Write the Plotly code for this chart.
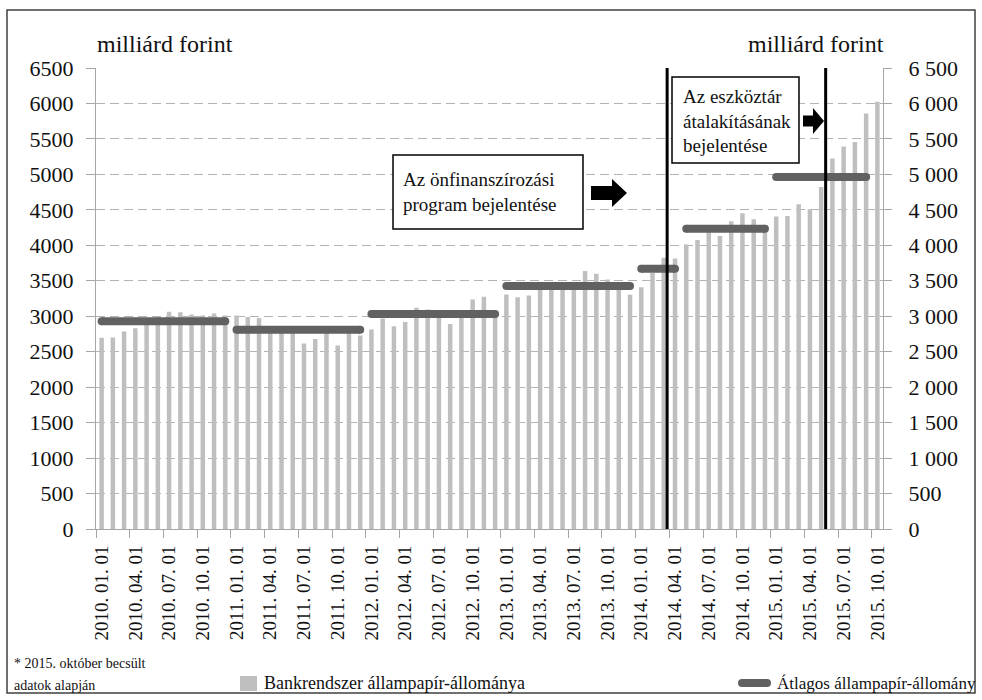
import plotly.graph_objects as go

# ---- data -------------------------------------------------------------
months = []
for year in range(2010, 2016):
    for m in range(1, 13):
        if year == 2015 and m > 10:
            break
        months.append(f"{year}. {m:02d}. 01")

# bank-sector government securities holdings (billion HUF), monthly
holdings = [
    2695, 2700, 2783, 2830, 2960, 2990, 3062, 3057, 3024, 3010, 3038, 3010,   # 2010
    3010, 2990, 2975, 2840, 2830, 2790, 2614, 2680, 2800, 2586, 2800, 2730,   # 2011
    2812, 2967, 2859, 2920, 3118, 3094, 3060, 2892, 3040, 3236, 3274, 3050,   # 2012
    3306, 3269, 3292, 3420, 3440, 3410, 3430, 3636, 3599, 3518, 3480, 3302,   # 2013
    3410, 3613, 3825, 3815, 4013, 4074, 4230, 4131, 4340, 4451, 4366, 4220,   # 2014
    4405, 4413, 4578, 4508, 4823, 5224, 5393, 5458, 5860, 6024,               # 2015
]

# average holdings per period: first month, last month, value
avg_start = ["2010. 01. 01", "2011. 01. 01", "2012. 01. 01", "2013. 01. 01",
             "2014. 01. 01", "2014. 05. 01", "2015. 01. 01"]
avg_end = ["2010. 12. 01", "2011. 12. 01", "2012. 12. 01", "2013. 12. 01",
           "2014. 04. 01", "2014. 12. 01", "2015. 09. 01"]
avg_value = [2930, 2808, 3030, 3425, 3670, 4235, 4964]

# announcements, placed on the monthly index axis
event_pos = [50.3, 64.4]

y_ticks = list(range(0, 6501, 500))
y_ticks_right = [f"{v // 1000} {v % 1000:03d}" if v >= 1000 else str(v) for v in y_ticks]

# ---- styling ----------------------------------------------------------
FONT = "Liberation Serif"
BAR_COLOR = "#bfbfbf"
AVG_COLOR = "#616161"
GRID_COLOR = "#b3b3b3"
AXIS_COLOR = "#a6a6a6"
TEXT_COLOR = "#111111"

WIDTH, HEIGHT = 982, 700
ML, MR, MT, MB = 96, 99, 68, 171
PW = WIDTH - ML - MR
PH = HEIGHT - MT - MB


def fx(px):
    return (px - ML) / PW


def fy(py):
    return (HEIGHT - MB - py) / PH


idx = list(range(len(months)))

fig = go.Figure()

fig.add_trace(go.Bar(
    x=idx, y=holdings, width=0.4,
    marker=dict(color=BAR_COLOR, line=dict(width=0)),
    name="Bankrendszer állampapír-állománya", showlegend=False,
))

for s, e, v in zip(avg_start, avg_end, avg_value):
    i0, i1 = months.index(s), months.index(e)
    fig.add_trace(go.Scatter(
        x=[i0, i1], y=[v, v], mode="lines+markers",
        line=dict(color=AVG_COLOR, width=8),
        marker=dict(color=AVG_COLOR, size=8, line=dict(width=0)),
        showlegend=False, hoverinfo="skip",
    ))

# carrier trace for the secondary axes (right scale, centred date labels)
fig.add_trace(go.Scatter(
    x=[0], y=[0], xaxis="x2", yaxis="y2", mode="markers",
    marker=dict(opacity=0), showlegend=False, hoverinfo="skip",
))

xr = [-0.5, len(months) - 0.5]

fig.update_layout(
    width=WIDTH, height=HEIGHT,
    margin=dict(l=ML, r=MR, t=MT, b=MB, pad=0),
    paper_bgcolor="white", plot_bgcolor="white",
    font=dict(family=FONT, color=TEXT_COLOR),
    bargap=0.6,
    xaxis=dict(
        range=xr, tickmode="array",
        tickvals=[i - 0.5 for i in idx[::3]], ticktext=["" for _ in idx[::3]],
        ticks="outside", ticklen=8, tickcolor=AXIS_COLOR, tickwidth=1,
        showline=True, linecolor=AXIS_COLOR, linewidth=1,
        showgrid=False, zeroline=False,
    ),
    xaxis2=dict(
        range=xr, overlaying="x", anchor="y", side="bottom",
        tickmode="array", tickvals=idx[::3], ticktext=months[::3],
        tickangle=-90, ticks="outside", ticklen=8, tickcolor="rgba(0,0,0,0)",
        tickfont=dict(size=19, family=FONT, color=TEXT_COLOR),
        showline=False, showgrid=False, zeroline=False,
    ),
    yaxis=dict(
        range=[0, 6500], tickmode="array", tickvals=y_ticks,
        ticktext=[str(v) for v in y_ticks],
        ticks="outside", ticklen=9, tickcolor=AXIS_COLOR,
        ticklabelstandoff=8,
        tickfont=dict(size=22, family=FONT, color=TEXT_COLOR),
        showline=True, linecolor=AXIS_COLOR, linewidth=1,
        showgrid=True, gridcolor=GRID_COLOR, gridwidth=1, griddash="9px,5px",
        zeroline=False,
    ),
    yaxis2=dict(
        range=[0, 6500], overlaying="y", side="right", anchor="x",
        tickmode="array", tickvals=y_ticks, ticktext=y_ticks_right,
        ticks="outside", ticklen=8, tickcolor=AXIS_COLOR,
        ticklabelstandoff=12,
        tickfont=dict(size=22, family=FONT, color=TEXT_COLOR),
        showline=True, linecolor=AXIS_COLOR, linewidth=1,
        showgrid=False, zeroline=False,
    ),
)

shapes = []

# outer frame
shapes.append(dict(type="rect", xref="paper", yref="paper",
                   x0=fx(7), x1=fx(975), y0=fy(693), y1=fy(10),
                   line=dict(color="#404040", width=1.5), layer="below"))

# announcement markers
for p in event_pos:
    shapes.append(dict(type="line", xref="x", yref="y", x0=p, x1=p, y0=0, y1=6500,
                       line=dict(color="black", width=3), layer="above"))


def box(x0, y0, x1, y1):
    return dict(type="rect", xref="paper", yref="paper",
                x0=fx(x0), x1=fx(x1), y0=fy(y1), y1=fy(y0),
                fillcolor="white", line=dict(color="black", width=1.5), layer="above")


def block_arrow(x0, xh, xt, yc, shaft, head):
    pts = [(x0, yc - shaft / 2), (xh, yc - shaft / 2), (xh, yc - head / 2), (xt, yc),
           (xh, yc + head / 2), (xh, yc + shaft / 2), (x0, yc + shaft / 2)]
    path = "M " + " L ".join(f"{fx(a):.5f},{fy(b):.5f}" for a, b in pts) + " Z"
    return dict(type="path", xref="paper", yref="paper", path=path,
                fillcolor="black", line=dict(color="black", width=0), layer="above")


def capsule(x0, x1, yc, r):
    pts = (f"M {fx(x0):.5f},{fy(yc - r):.5f} L {fx(x1):.5f},{fy(yc - r):.5f} "
           f"Q {fx(x1 + r):.5f},{fy(yc - r):.5f} {fx(x1 + r):.5f},{fy(yc):.5f} "
           f"Q {fx(x1 + r):.5f},{fy(yc + r):.5f} {fx(x1):.5f},{fy(yc + r):.5f} "
           f"L {fx(x0):.5f},{fy(yc + r):.5f} "
           f"Q {fx(x0 - r):.5f},{fy(yc + r):.5f} {fx(x0 - r):.5f},{fy(yc):.5f} "
           f"Q {fx(x0 - r):.5f},{fy(yc - r):.5f} {fx(x0):.5f},{fy(yc - r):.5f} Z")
    return dict(type="path", xref="paper", yref="paper", path=pts,
                fillcolor=AVG_COLOR, line=dict(color=AVG_COLOR, width=0), layer="above")


shapes.append(box(393, 155, 583, 229))
shapes.append(block_arrow(591, 612, 627, 193, 14, 28))
shapes.append(box(672, 77, 799, 163))
shapes.append(block_arrow(803, 813, 824, 121, 11, 26))

# legend symbols
shapes.append(dict(type="rect", xref="paper", yref="paper",
                   x0=fx(240), x1=fx(257), y0=fy(691), y1=fy(676),
                   fillcolor=BAR_COLOR, line=dict(width=0), layer="above"))
shapes.append(capsule(742, 767, 683, 4))

fig.update_layout(shapes=shapes)


def text(px, py, s, size, xanchor="left"):
    return dict(xref="paper", yref="paper", x=fx(px), y=fy(py), text=s,
                xanchor=xanchor, yanchor="middle", align="left", showarrow=False,
                font=dict(family=FONT, size=size, color=TEXT_COLOR))


annotations = [
    text(95, 44, "milliárd forint", 24),
    text(886, 44, "milliárd forint", 24, xanchor="right"),
    text(401, 192, "Az önfinanszírozási<br>program bejelentése", 19),
    text(681, 121, "Az eszköztár<br>átalakításának<br>bejelentése", 19),
    text(12, 663, "* 2015. október becsült", 14),
    text(12, 685, "adatok alapján", 14),
    text(262, 683, "Bankrendszer állampapír-állománya", 18),
    text(775, 683, "Átlagos állampapír-állomány", 17),
]
fig.update_layout(annotations=annotations)

fig.write_html("out.html")
